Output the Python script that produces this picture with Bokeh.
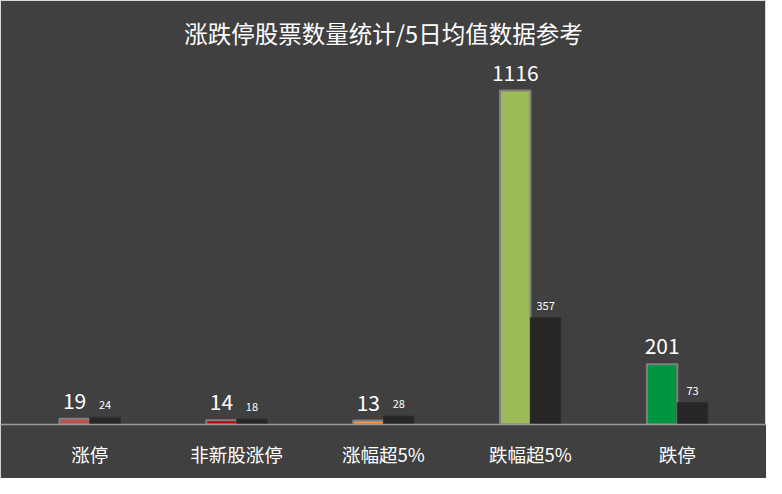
from bokeh.plotting import figure
from bokeh.models import ColumnDataSource, FactorRange, Range1d, LabelSet, Label
from bokeh.transform import dodge
from bokeh.core.properties import value
from bokeh.embed import file_html
from bokeh.resources import INLINE

categories = ["涨停", "非新股涨停", "涨幅超5%", "跌幅超5%", "跌停"]
today_counts = [19, 14, 13, 1116, 201]
avg5_counts = [24, 18, 28, 357, 73]
today_colors = ["#c0504d", "#c00000", "#f79646", "#9bbb59", "#00953f"]
title_text = "涨跌停股票数量统计/5日均值数据参考"

BG = "#404040"
FONT = "Noto Sans CJK SC"

src = ColumnDataSource(dict(
    cat=categories,
    today=today_counts,
    avg=avg5_counts,
    color=today_colors,
    today_txt=[str(v) for v in today_counts],
    avg_txt=[str(v) for v in avg5_counts],
))

p = figure(
    width=766, height=478,
    x_range=FactorRange(*categories, range_padding=0.043),
    y_range=Range1d(0, 1417),
    output_backend="svg", toolbar_location=None,
    background_fill_color=BG, border_fill_color=BG,
    outline_line_color="#d9d9d9", outline_line_width=1,
    min_border_left=0, min_border_right=0, min_border_top=0, min_border_bottom=54,
)

p.add_layout(Label(x=383, x_units="screen", y=1310, y_units="data", text=title_text,
                   text_align="center", text_baseline="middle", text_color="white",
                   text_font=FONT, text_font_size="23.5px"))

bw = 0.207
p.vbar(x=dodge("cat", -0.103, range=p.x_range), top="today", width=bw, source=src,
       fill_color="color", line_color="#808080", line_width=2)
p.vbar(x=dodge("cat", 0.104, range=p.x_range), top="avg", width=bw, source=src,
       fill_color="#262626", line_color="#2e2e2e", line_width=1)

p.add_layout(LabelSet(x=dodge("cat", -0.103, range=p.x_range), y="today", text="today_txt",
                      source=src, text_align="center", text_baseline="bottom", y_offset=10,
                      text_color="white", text_font_size="21px", text_font=value(FONT)))
p.add_layout(LabelSet(x=dodge("cat", 0.104, range=p.x_range), y="avg", text="avg_txt",
                      source=src, text_align="center", text_baseline="bottom", y_offset=8,
                      text_color="white", text_font_size="11px", text_font=value(FONT)))

p.yaxis.visible = False
p.xgrid.grid_line_color = None
p.ygrid.grid_line_color = None
p.xaxis.axis_line_color = "#9a9a9a"
p.xaxis.axis_line_width = 1.5
p.xaxis.major_tick_line_color = None
p.xaxis.minor_tick_line_color = None
p.xaxis.major_label_text_color = "white"
p.xaxis.major_label_text_font = FONT
p.xaxis.major_label_text_font_size = "18.5px"
p.xaxis.major_label_standoff = 10

open("out.html", "w").write(file_html(p, INLINE))
